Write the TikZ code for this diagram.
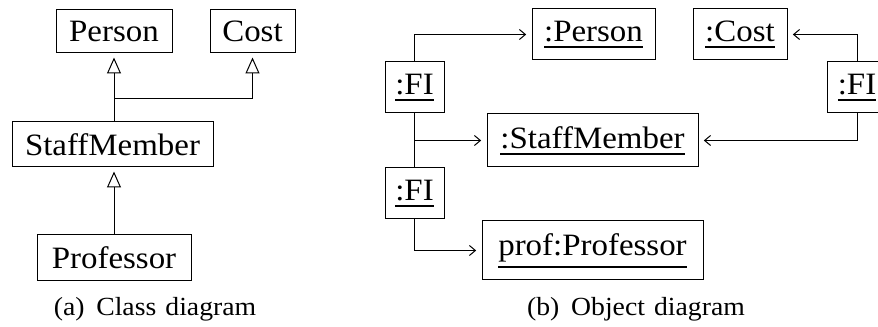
\documentclass[tikz,border=0pt]{standalone}
\usepackage{fontspec}
\setmainfont{Liberation Serif}[FakeStretch=1.06]
\usetikzlibrary{arrows.meta}

% underline drawn below the depth of the text box
\newcommand\objul[1]{\setbox0\hbox{#1}\leavevmode\vtop{\box0\kern3.4pt\hrule height 1.2pt}}

\tikzset{
  box/.style={draw, line width=0.75pt, inner sep=0pt, anchor=center,
    font=\fontsize{23.3}{26}\selectfont},
  gen/.style={line width=0.75pt, -{Triangle[length=12pt,width=10.5pt,fill=white]}, shorten >=3pt},
  link/.style={line width=0.75pt, -{Straight Barb[length=4.5pt,width=7.5pt]}, shorten >=4pt},
  plain/.style={line width=0.75pt},
  caption/.style={font=\fontsize{19.6}{22}\selectfont, anchor=center}
}

\begin{document}
\begin{tikzpicture}[x=0.75pt, y=-0.75pt]
\useasboundingbox (0,0) rectangle (878,327);

% ---- class diagram ----
\node[box, minimum width=116*0.75pt, minimum height=43*0.75pt] (person) at (114,31.5) {Person};
\node[box, minimum width=85*0.75pt, minimum height=43*0.75pt] (cost) at (252.5,31.5) {Cost};
\node[box, minimum width=201*0.75pt, minimum height=45*0.75pt] (staff) at (112.5,144.5) {StaffMember};
\node[box, minimum width=154*0.75pt, minimum height=46*0.75pt] (prof) at (114,258) {Professor};
\coordinate (junc) at (114,99);

\draw[plain] (staff.north -| person.south) -- (junc);
\draw[gen] (junc) -- (person.south);
\draw[gen] (junc) -| (cost.south);
\draw[gen] (prof.north) -- (prof.north |- staff.south);

\node[caption] (capa) at (155,309) {(a)\hspace{0.45em}Class\hspace{0.35em}diagram};

% ---- object diagram ----
\node[box, minimum width=123*0.75pt, minimum height=51*0.75pt] (operson) at (593.5,34.5) {\objul{:Person}};
\node[box, minimum width=94*0.75pt, minimum height=51*0.75pt] (ocost) at (740,34.5) {\objul{:Cost}};
\node[box, minimum width=59*0.75pt, minimum height=51*0.75pt] (fia) at (414.5,87.5) {\objul{:FI}};
\node[box, minimum width=59*0.75pt, minimum height=51*0.75pt] (fic) at (857,87.5) {\objul{:FI}};
\node[box, minimum width=211*0.75pt, minimum height=53*0.75pt] (ostaff) at (592.5,140.5) {\objul{:StaffMember}};
\node[box, minimum width=59*0.75pt, minimum height=51*0.75pt] (fib) at (414.5,193.5) {\objul{:FI}};
\node[box, minimum width=221*0.75pt, minimum height=59*0.75pt] (oprof) at (592.5,250.5) {\objul{prof:Professor}};

\draw[link] (fia.north) |- (operson.west);
\draw[plain] (fia.south) -- (fib.north);
\draw[link] (fia.south |- ostaff.west) -- (ostaff.west);
\draw[link] (fib.south) |- (oprof.west);
\draw[link] (fic.north) |- (ocost.east);
\draw[link] (fic.south) |- (ostaff.east);

\node[caption] (capb) at (636,309) {(b)\hspace{0.45em}Object\hspace{0.35em}diagram};
\end{tikzpicture}
\end{document}
